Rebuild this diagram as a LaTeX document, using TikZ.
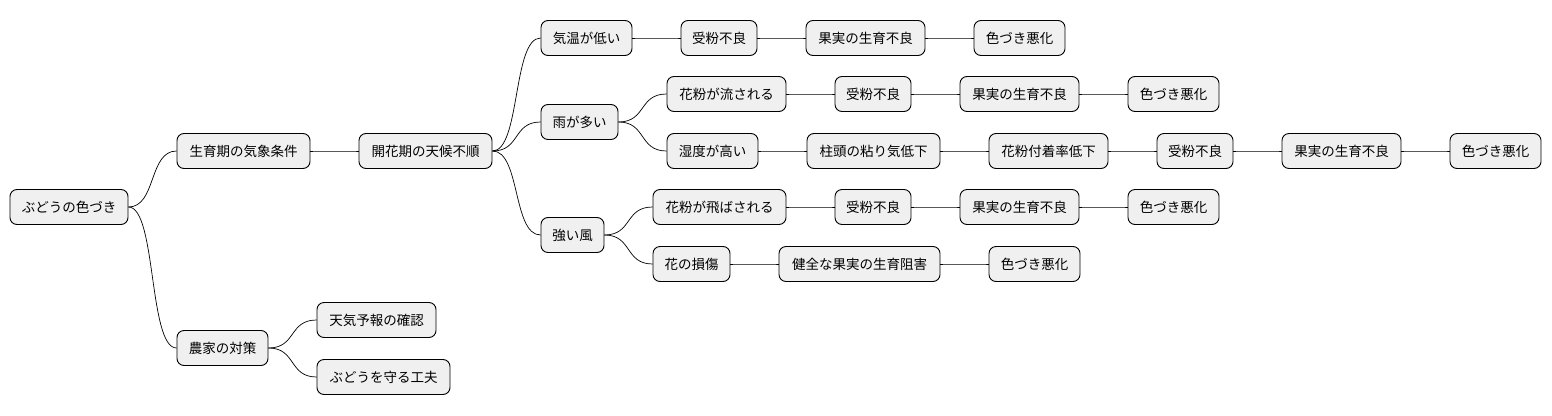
\documentclass[tikz,border=0pt]{standalone}
\usepackage{fontspec}
\setmainfont{Noto Sans CJK JP}
\begin{document}
\begin{tikzpicture}[x=1pt,y=-1pt,
 box/.style={draw=black,line width=0.9pt,rounded corners=7pt,fill=black!6,minimum height=35pt,inner sep=0pt,font=\fontsize{13.5}{15}\selectfont},
 ln/.style={line width=0.7pt}]
\useasboundingbox (0,0) rectangle (1552,415);
\newcommand\nd[5]{\node[box,minimum width=#3-#2] (#1) at ({(#2+#3)/2},#4) {#5};}
\newcommand\cn[2]{\draw[ln] (#1.east) .. controls +(28,0) and +(-28,0) .. (#2.west);}
\nd{r}{10}{128}{207}{ぶどうの色づき}
\nd{a}{177}{310}{151}{生育期の気象条件}
\nd{b}{359}{492}{151}{開花期の天候不順}
\nd{c1}{541}{632}{38}{気温が低い}
\nd{c1a}{681}{757}{38}{受粉不良}
\nd{c1b}{806}{925}{38}{果実の生育不良}
\nd{c1c}{974}{1065}{38}{色づき悪化}
\nd{c2}{541}{618}{122}{雨が多い}
\nd{d1}{667}{786}{94}{花粉が流される}
\nd{d1a}{835}{911}{94}{受粉不良}
\nd{d1b}{960}{1079}{94}{果実の生育不良}
\nd{d1c}{1128}{1219}{94}{色づき悪化}
\nd{d2}{667}{758}{151}{湿度が高い}
\nd{d2a}{807}{940}{151}{柱頭の粘り気低下}
\nd{d2b}{989}{1108}{151}{花粉付着率低下}
\nd{d2c}{1157}{1233}{151}{受粉不良}
\nd{d2d}{1282}{1401}{151}{果実の生育不良}
\nd{d2e}{1450}{1541}{151}{色づき悪化}
\nd{c3}{541}{604}{235}{強い風}
\nd{e1}{653}{786}{207}{花粉が飛ばされる}
\nd{e1a}{835}{911}{207}{受粉不良}
\nd{e1b}{960}{1079}{207}{果実の生育不良}
\nd{e1c}{1128}{1219}{207}{色づき悪化}
\nd{e2}{653}{730}{264}{花の損傷}
\nd{e2a}{779}{940}{264}{健全な果実の生育阻害}
\nd{e2b}{989}{1080}{264}{色づき悪化}
\nd{f}{177}{268}{348}{農家の対策}
\nd{f1}{317}{436}{320}{天気予報の確認}
\nd{f2}{317}{450}{377}{ぶどうを守る工夫}
\cn{r}{a}\cn{r}{f}\cn{a}{b}
\cn{b}{c1}\cn{b}{c2}\cn{b}{c3}
\cn{c1}{c1a}\cn{c1a}{c1b}\cn{c1b}{c1c}
\cn{c2}{d1}\cn{c2}{d2}
\cn{d1}{d1a}\cn{d1a}{d1b}\cn{d1b}{d1c}
\cn{d2}{d2a}\cn{d2a}{d2b}\cn{d2b}{d2c}\cn{d2c}{d2d}\cn{d2d}{d2e}
\cn{c3}{e1}\cn{c3}{e2}
\cn{e1}{e1a}\cn{e1a}{e1b}\cn{e1b}{e1c}
\cn{e2}{e2a}\cn{e2a}{e2b}
\cn{f}{f1}\cn{f}{f2}
\end{tikzpicture}
\end{document}
